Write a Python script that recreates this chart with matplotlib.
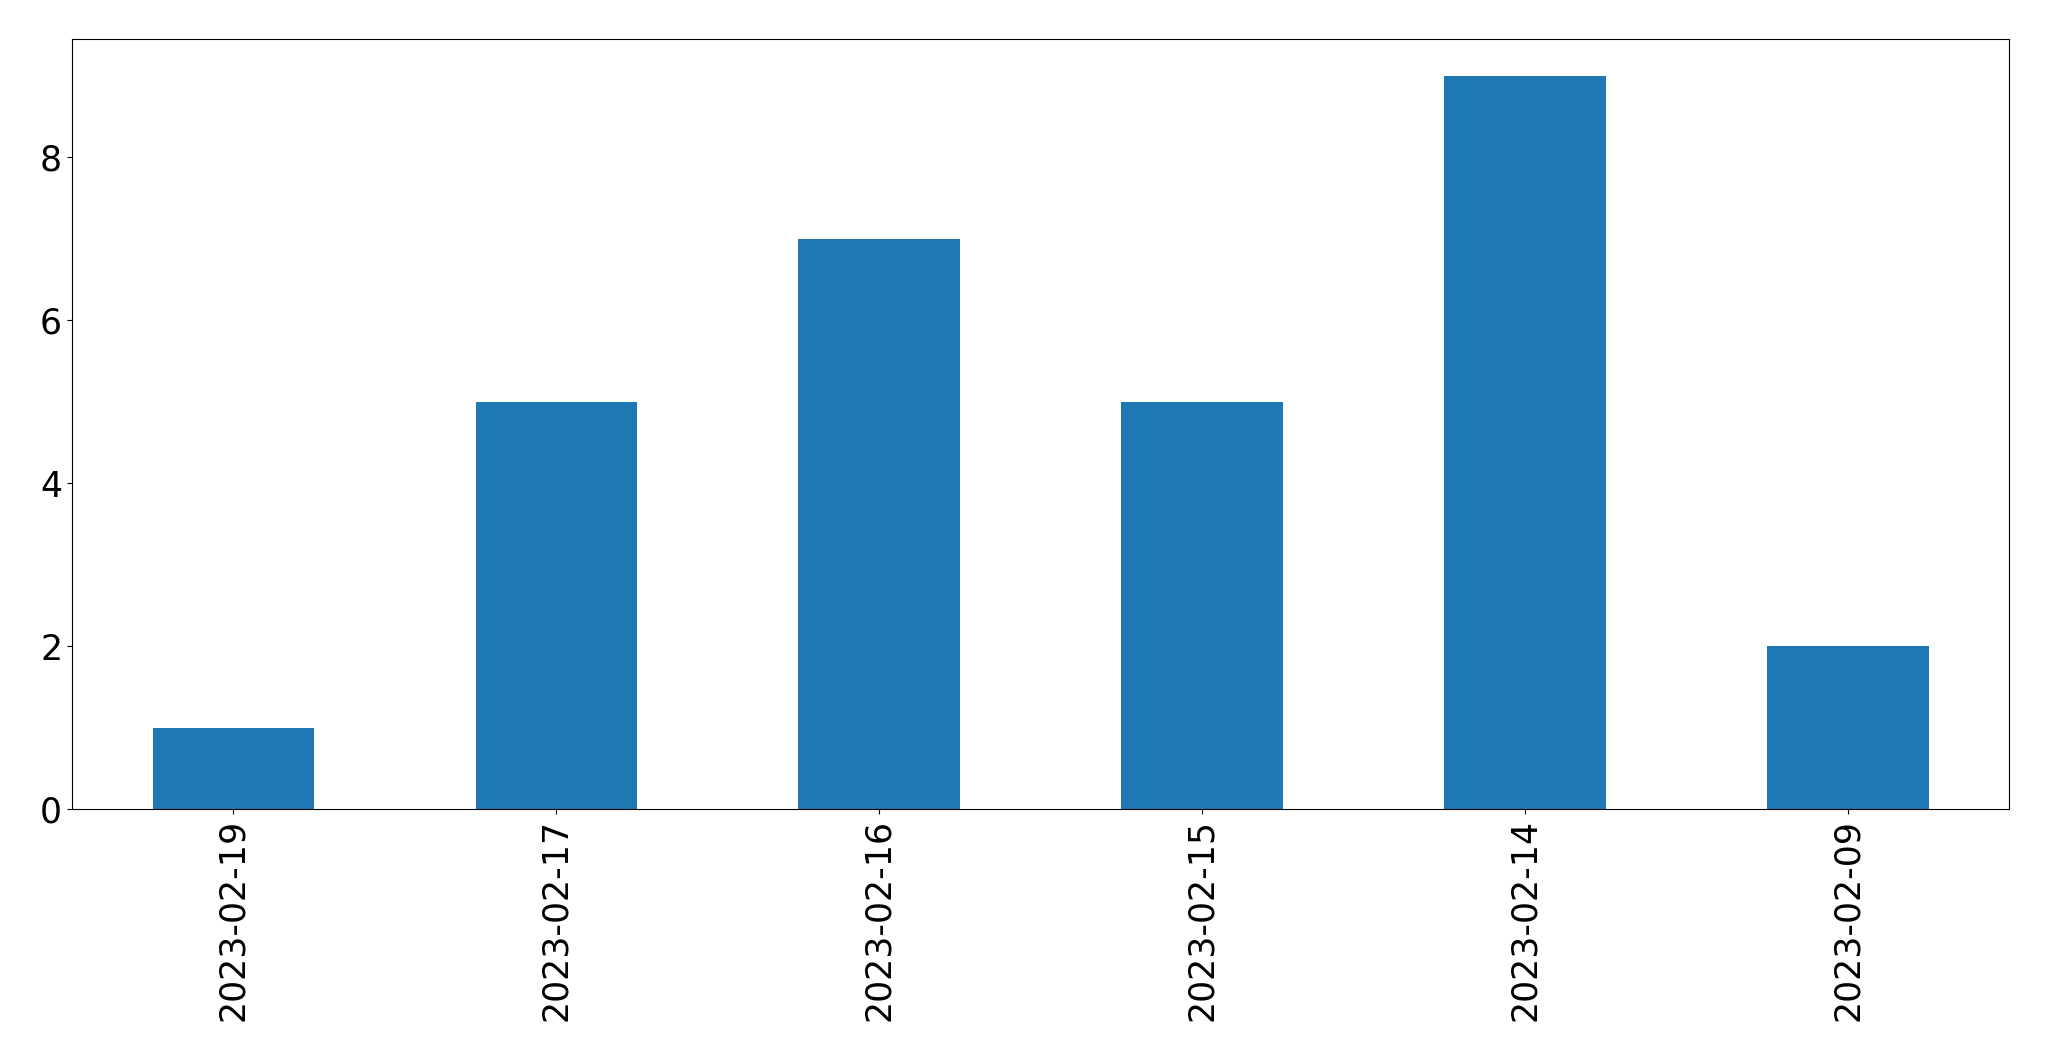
import matplotlib
matplotlib.use("Agg")
import matplotlib.pyplot as plt
import numpy as np

dates = ["2023-02-19", "2023-02-17", "2023-02-16", "2023-02-15", "2023-02-14", "2023-02-09"]
counts = [1, 5, 7, 5, 9, 2]

fig = plt.figure(figsize=(20.49, 10.61), dpi=100)
ax = fig.add_axes([0.0351, 0.2375, 0.9455, 0.7257])

x = np.arange(len(dates))
ax.bar(x, counts, width=0.5, color="#1f77b4")
ax.set_xlim(-0.5, len(dates) - 0.5)
ax.set_ylim(0, max(counts) * 1.05)
ax.set_xticks(x)
ax.set_xticklabels(dates, rotation=90)
ax.tick_params(labelsize=25)

fig.savefig("out.png", dpi=100)
